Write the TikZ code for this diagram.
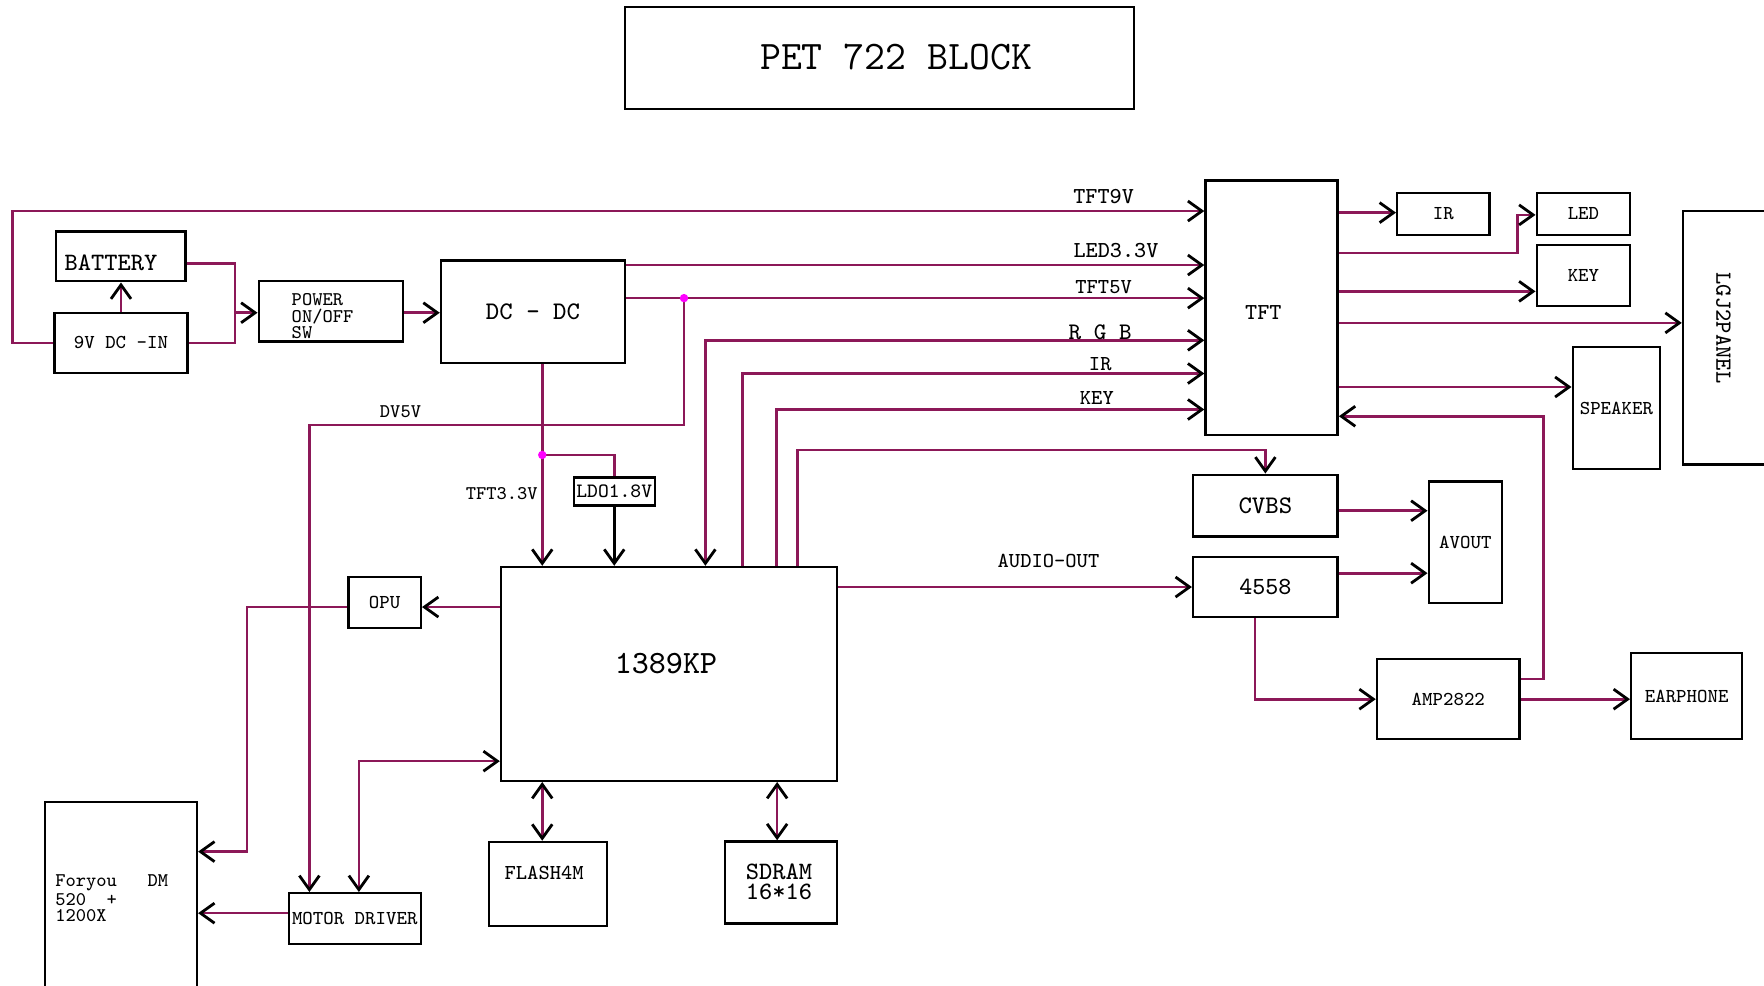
\documentclass[tikz,border=0pt]{standalone}
\usepackage{fontspec}
\renewcommand*{\familydefault}{\ttdefault}
\usepackage{tikz}
\usetikzlibrary{arrows.meta,positioning}
\definecolor{trace}{RGB}{140,24,88}
\definecolor{tap}{RGB}{255,0,255}
\newlength{\gridu}
\setlength{\gridu}{0.01125cm}
% block from corner (x1,y1) to corner (x2,y2)
\newcommand{\blk}[7][]{%
  \node[blkbox, minimum width={(#5-#3)*\gridu}, minimum height={(#6-#4)*\gridu}, #1] (#2) at ({(#3+#5)/2},{(#4+#6)/2}) {#7};}
\tikzset{
  blkbox/.style={draw, line width=0.7pt, inner sep=0pt, font=\ttfamily\fontsize{5.6}{5.6}\selectfont},
  wire/.style={draw=trace, line width=0.75pt, >={Straight Barb[length=1.4mm,width=2mm,color=black,line width=0.8pt]}},
  lbl/.style={inner sep=0pt, font=\ttfamily\fontsize{6.05}{6.05}\selectfont},
}

\begin{document}
\begin{tikzpicture}[x=0.01125cm, y=-0.01125cm]
  \useasboundingbox (0,0) rectangle (1568,876);

  % title
  \blk{title}{555.5}{6}{1008}{97}{}
  \node[lbl, font=\ttfamily\fontsize{11.55}{11.55}\selectfont] (titletxt) at (796.5,51) {PET 722 BLOCK};

  % power in
  \blk{batt}{50}{205.6}{164.7}{250}{}
  \node[lbl, font=\ttfamily\fontsize{7.1}{7.1}\selectfont] (batttxt) at (98.6,234) {BATTERY};
  \blk{dcin}{48.4}{278}{166.7}{331.6}{9V DC -IN}
  \blk{power}{230}{249.8}{358}{303.7}{}
  \node[lbl, font=\ttfamily\fontsize{5.5}{4.8}\selectfont, anchor=west, align=left] (powertxt) at (258.7,281) {POWER\\ON/OFF\\SW};
  \blk[font=\ttfamily\fontsize{7.2}{7.2}\selectfont]{dcdc}{392}{231.7}{555.6}{322.7}{DC - DC}
  \blk[font=\ttfamily\fontsize{5.8}{5.8}\selectfont]{ldo}{510}{424.5}{582}{449.5}{LDO1.8V}

  % panel side
  \blk{tft}{1071.6}{160.6}{1189}{386.8}{}
  \node[lbl, font=\ttfamily\fontsize{6.5}{6.5}\selectfont] (tfttxt) at (1123,278) {TFT};
  \blk{irb}{1242}{171.4}{1324}{209}{IR}
  \blk{led}{1366}{171.4}{1449}{209}{LED}
  \blk{keyb}{1366}{218}{1449}{272}{KEY}
  \blk{panel}{1496}{187.6}{1572}{413}{}
  \node[lbl, font=\ttfamily\fontsize{6.6}{6.6}\selectfont, rotate=-90] (paneltxt) at (1532,291.6) {LGJ2PANEL};
  \blk{spk}{1398}{308.6}{1475.6}{417}{SPEAKER}

  % audio / video out
  \blk[font=\ttfamily\fontsize{7.2}{7.2}\selectfont]{cvbs}{1060.6}{422}{1189}{477}{CVBS}
  \blk[font=\ttfamily\fontsize{7.0}{7.0}\selectfont]{ic}{1060.6}{495}{1189}{548.6}{4558}
  \blk{avout}{1270}{428}{1335}{536}{AVOUT}
  \blk{amp}{1224}{586}{1350.8}{657}{AMP2822}
  \blk{ear}{1450}{580.6}{1548.5}{657}{EARPHONE}

  % decoder and loader
  \blk{kp}{445.4}{504}{744}{694}{}
  \node[lbl, font=\ttfamily\fontsize{9.25}{9.25}\selectfont] (kptxt) at (592,590) {1389KP};
  \blk{opu}{309.6}{513}{374}{558}{OPU}
  \blk{foryou}{39.8}{713}{175}{900}{}
  \node[lbl, font=\ttfamily\fontsize{5.5}{4.3}\selectfont, anchor=west, align=left] (foryoutxt) at (48.5,798) {Foryou\ \ \ DM\\520\ \ +\\1200X};
  \blk{motor}{256.7}{794}{374}{839}{MOTOR DRIVER}
  \blk{flash}{434.7}{748.4}{539.7}{823}{}
  \node[lbl] (flashtxt) at (483.7,776) {FLASH4M};
  \blk{sdram}{644.5}{748}{744}{820.7}{}
  \node[lbl, font=\ttfamily\fontsize{7.1}{5.6}\selectfont, align=center] (sdramtxt) at (692.5,784) {SDRAM\\16*16};

  % bend points
  \coordinate (jin) at (209,278);
  \coordinate (j5) at (608,265);
  \coordinate (j33) at (482,404.4);
  \coordinate (loop) at (11,187.6);
  \coordinate (dv) at (275,377.8);

  % supply wires
  \draw[wire,->] (dcin.west) -| (loop) -- (loop -| tft.west);
  \draw[wire,->] (dcin.north) -- (dcin.north |- batt.south);
  \draw[wire] (batt.east |- 0,234) -| (jin) |- (dcin.east);
  \draw[wire,->] (jin) -- (jin -| power.west);
  \draw[wire,->] (power.east |- jin) -- (jin -| dcdc.west);
  \draw[wire,->] (dcdc.east |- 0,235.6) -- (tft.west |- 0,235.6);
  \draw[wire,->] (dcdc.east |- j5) -- (j5 -| tft.west);
  \draw[wire,->] (j5) |- (dv) -- (dv |- motor.north);
  \draw[wire,->] (j33 |- dcdc.south) -- (j33 |- kp.north);
  \draw[wire] (j33) -| (ldo.north);
  \draw[wire,->,draw=black] (ldo.south) -- (ldo.south |- kp.north);

  % signals to the panel
  \draw[wire,<->] (kp.north -| 627,0) |- (tft.west |- 0,302.5);
  \draw[wire,->] (kp.north -| 660,0) |- (tft.west |- 0,332);
  \draw[wire,->] (kp.north -| 690,0) |- (tft.west |- 0,364);
  \draw[wire,->] (kp.north -| 709,0) -- (709,400) -| (cvbs.north);
  \draw[wire,->] (tft.east |- 0,189) -- (irb.west |- 0,189);
  \draw[wire,->] (tft.east |- 0,225) -| (1349,191) -- (led.west |- 0,191);
  \draw[wire,->] (tft.east |- 0,259) -- (keyb.west |- 0,259);
  \draw[wire,->] (tft.east |- 0,287) -- (panel.west |- 0,287);
  \draw[wire,->] (tft.east |- 0,344) -- (spk.west |- 0,344);

  % audio
  \draw[wire,->] (kp.east |- ic.west) -- (ic.west);
  \draw[wire,->] (cvbs.east |- 0,454) -- (avout.west |- 0,454);
  \draw[wire,->] (ic.east |- 0,509.5) -- (avout.west |- 0,509.5);
  \draw[wire,->] (ic.south -| 1115.6,0) |- (amp.west);
  \draw[wire,->] (amp.east) -- (amp.east -| ear.west);
  \draw[wire,->] (amp.east |- 0,603.6) -| (1372,370) -- (tft.east |- 0,370);

  % loader and memory
  \draw[wire,->] (kp.west |- 0,539.6) -- (opu.east |- 0,539.6);
  \draw[wire,->] (opu.west |- 0,539.6) -| (219.4,757) -- (foryou.east |- 0,757);
  \draw[wire,<->] (motor.north -| 319,0) |- (kp.west |- 0,676.6);
  \draw[wire,->] (motor.west |- 0,811.7) -- (foryou.east |- 0,811.7);
  \draw[wire,<->] (kp.south -| 482,0) -- (flash.north -| 482,0);
  \draw[wire,<->] (kp.south -| 690.8,0) -- (sdram.north -| 690.8,0);

  \fill[tap] (j5) circle (1.2pt);
  \fill[tap] (j33) circle (1.2pt);

  % wire labels
  \node[lbl, font=\ttfamily\fontsize{6.5}{6.5}\selectfont] (l9v) at (981,175) {TFT9V};
  \node[lbl, font=\ttfamily\fontsize{6.5}{6.5}\selectfont] (l33v) at (992,223) {LED3.3V};
  \node[lbl] (l5v) at (981,255) {TFT5V};
  \node[lbl, font=\ttfamily\fontsize{6.75}{6.75}\selectfont] (lrgb) at (978,295) {R G B};
  \node[lbl] (lir) at (978,324) {IR};
  \node[lbl] (lkey) at (975,354) {KEY};
  \node[lbl] (laudio) at (932,499) {AUDIO-OUT};
  \node[lbl, font=\ttfamily\fontsize{5.5}{5.5}\selectfont] (ldv5) at (356,366) {DV5V};
  \node[lbl, font=\ttfamily\fontsize{5.5}{5.5}\selectfont] (ltft33) at (446,439) {TFT3.3V};
\end{tikzpicture}
\end{document}
